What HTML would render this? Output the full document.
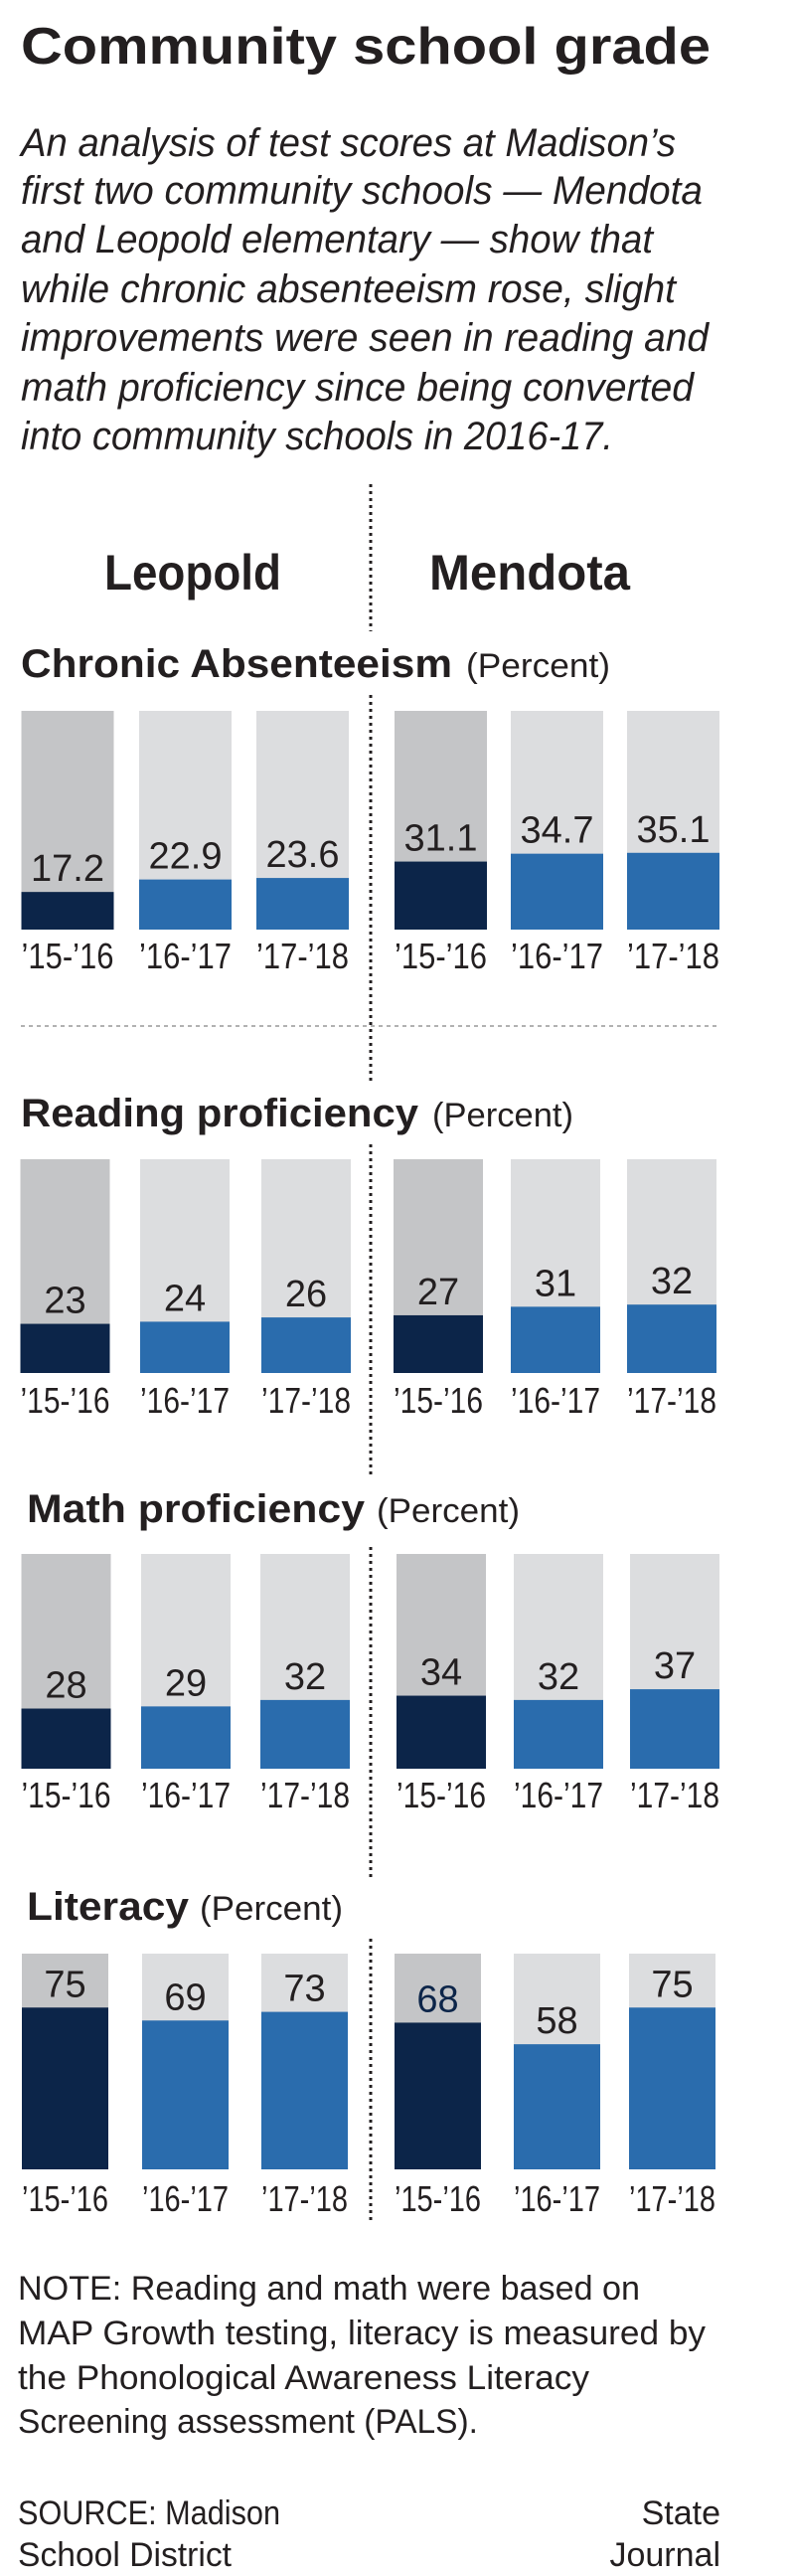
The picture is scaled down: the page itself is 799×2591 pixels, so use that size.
<!DOCTYPE html>
<html><head><meta charset="utf-8"><style>
html,body{margin:0;padding:0;background:#fff;}
svg{display:block;font-family:"Liberation Sans",sans-serif;}
</style></head><body>
<svg id="g" width="799" height="2591" viewBox="0 0 799 2591" xmlns="http://www.w3.org/2000/svg">
<text x="21" y="64" font-size="52" font-weight="bold" fill="#231f20" textLength="694" lengthAdjust="spacingAndGlyphs">Community school grade</text>
<g font-size="40" font-style="italic" fill="#231f20">
<text x="21" y="157" textLength="659" lengthAdjust="spacingAndGlyphs">An analysis of test scores at Madison’s</text>
<text x="21" y="205" textLength="686" lengthAdjust="spacingAndGlyphs">first two community schools — Mendota</text>
<text x="21" y="254" textLength="636" lengthAdjust="spacingAndGlyphs">and Leopold elementary — show that</text>
<text x="21" y="304" textLength="659" lengthAdjust="spacingAndGlyphs">while chronic absenteeism rose, slight</text>
<text x="21" y="353" textLength="692" lengthAdjust="spacingAndGlyphs">improvements were seen in reading and</text>
<text x="21" y="403" textLength="677" lengthAdjust="spacingAndGlyphs">math proficiency since being converted</text>
<text x="21" y="452" textLength="596" lengthAdjust="spacingAndGlyphs">into community schools in 2016-17.</text>
</g>
<g stroke="#231f20" stroke-width="3" stroke-dasharray="3 4">
<line x1="373" y1="487" x2="373" y2="635"/>
<line x1="373" y1="699" x2="373" y2="1087"/>
<line x1="373" y1="1151" x2="373" y2="1485"/>
<line x1="373" y1="1556" x2="373" y2="1888"/>
<line x1="373" y1="1950" x2="373" y2="2234"/>
</g>
<line x1="21" y1="1032" x2="725" y2="1032" stroke="#999" stroke-width="1.5" stroke-dasharray="4 4"/>
<text x="105" y="593" font-size="50" font-weight="bold" fill="#231f20" textLength="178" lengthAdjust="spacingAndGlyphs">Leopold</text>
<text x="432" y="593" font-size="50" font-weight="bold" fill="#231f20" textLength="202" lengthAdjust="spacingAndGlyphs">Mendota</text>
<g id="charts"></g>
<g font-size="34" fill="#231f20">
<text x="18" y="2313" textLength="626" lengthAdjust="spacingAndGlyphs">NOTE: Reading and math were based on</text>
<text x="18" y="2358" textLength="692" lengthAdjust="spacingAndGlyphs">MAP Growth testing, literacy is measured by</text>
<text x="18" y="2403" textLength="575" lengthAdjust="spacingAndGlyphs">the Phonological Awareness Literacy</text>
<text x="18" y="2447" textLength="463" lengthAdjust="spacingAndGlyphs">Screening assessment (PALS).</text>
</g>
<g font-size="34" fill="#231f20">
<text x="18" y="2539" textLength="264" lengthAdjust="spacingAndGlyphs">SOURCE: Madison</text>
<text x="18" y="2581" textLength="215" lengthAdjust="spacingAndGlyphs">School District</text>
<text x="725" y="2539" text-anchor="end">State</text>
<text x="725" y="2581" text-anchor="end">Journal</text>
</g>
</svg>
<script>
const categories = ["’15-’16", "’16-’17", "’17-’18"];
const absenteeismLeopold = [17.2, 22.9, 23.6];
const absenteeismMendota = [31.1, 34.7, 35.1];
const readingLeopold = [23, 24, 26];
const readingMendota = [27, 31, 32];
const mathLeopold = [28, 29, 32];
const mathMendota = [34, 32, 37];
const literacyLeopold = [75, 69, 73];
const literacyMendota = [68, 58, 75];
const absenteeismLabels = ["17.2", "22.9", "23.6", "31.1", "34.7", "35.1"];

const NS = "http://www.w3.org/2000/svg";
const root = document.getElementById("charts");
function mk(tag, attrs, parent) {
  const e = document.createElementNS(NS, tag);
  for (const k in attrs) e.setAttribute(k, attrs[k]);
  parent.appendChild(e);
  return e;
}
const sections = [
  {key:"absenteeism", title:"Chronic Absenteeism", tx:21, tw:434, px:469, pw:145, ty:681, top:715, bottom:935, tick:974,
   xs:[21.5,140,258,397,514,631], w:93, left:absenteeismLeopold, right:absenteeismMendota, fmt:(v)=>v.toFixed(1)},
  {key:"reading", title:"Reading proficiency", tx:21, tw:400, px:435, pw:142, ty:1133, top:1166, bottom:1381, tick:1421,
   xs:[20.5,141,263,396,514,631], w:90, left:readingLeopold, right:readingMendota, fmt:(v)=>String(v)},
  {key:"math", title:"Math proficiency", tx:27, tw:340, px:379, pw:144, ty:1531, top:1563, bottom:1779, tick:1818,
   xs:[21.5,142,262,399,517,634], w:90, left:mathLeopold, right:mathMendota, fmt:(v)=>String(v)},
  {key:"literacy", title:"Literacy", tx:27, tw:163, px:201, pw:144, ty:1931, top:1965, bottom:2182, tick:2224,
   xs:[22,143,263,397,517,633], w:87, left:literacyLeopold, right:literacyMendota, fmt:(v)=>String(v)}
];
sections.forEach(s => {
  const g = mk("g", {}, root);
  
  
  const t = mk("text", {x:s.tx, y:s.ty, "font-size":40, "font-weight":"bold", fill:"#231f20", textLength:s.tw, lengthAdjust:"spacingAndGlyphs"}, g);
  t.textContent = s.title;
  
  
  const p = mk("text", {x:s.px, y:s.ty, "font-size":34, fill:"#231f20", textLength:s.pw, lengthAdjust:"spacingAndGlyphs"}, g);
  p.textContent = "(Percent)";
  
  
  const vals = s.left.concat(s.right);
  const yScale = (v) => s.bottom - (s.bottom - s.top) * v / 100;
  vals.forEach((v, i) => {
    const x = s.xs[i];
    const first = i % 3 === 0;
    const bg = mk("rect", {x:x, y:s.top, width:s.w, height:s.bottom - s.top, fill: first ? "#c4c5c7" : "#dcdddf"}, g);
    
    
    const y = yScale(v);
    const b = mk("rect", {x:x, y:y, width:s.w, height:s.bottom - y, fill: first ? "#0c2549" : "#2a6cad"}, g);
    
    
    const lbl = mk("text", {x:x + s.w / 2, y:y - 11, "font-size":38, "text-anchor":"middle",
      fill: (s.key === "literacy" && i === 3) ? "#0c2549" : "#231f20"}, g);
    lbl.textContent = s.fmt(v);
    
    
    const tk = mk("text", {x:x + s.w / 2, y:s.tick, "font-size":36, "text-anchor":"middle", fill:"#231f20",
      textLength:s.w, lengthAdjust:"spacingAndGlyphs"}, g);
    tk.textContent = categories[i % 3];
    
    
  });
});
</script>
</body></html>
